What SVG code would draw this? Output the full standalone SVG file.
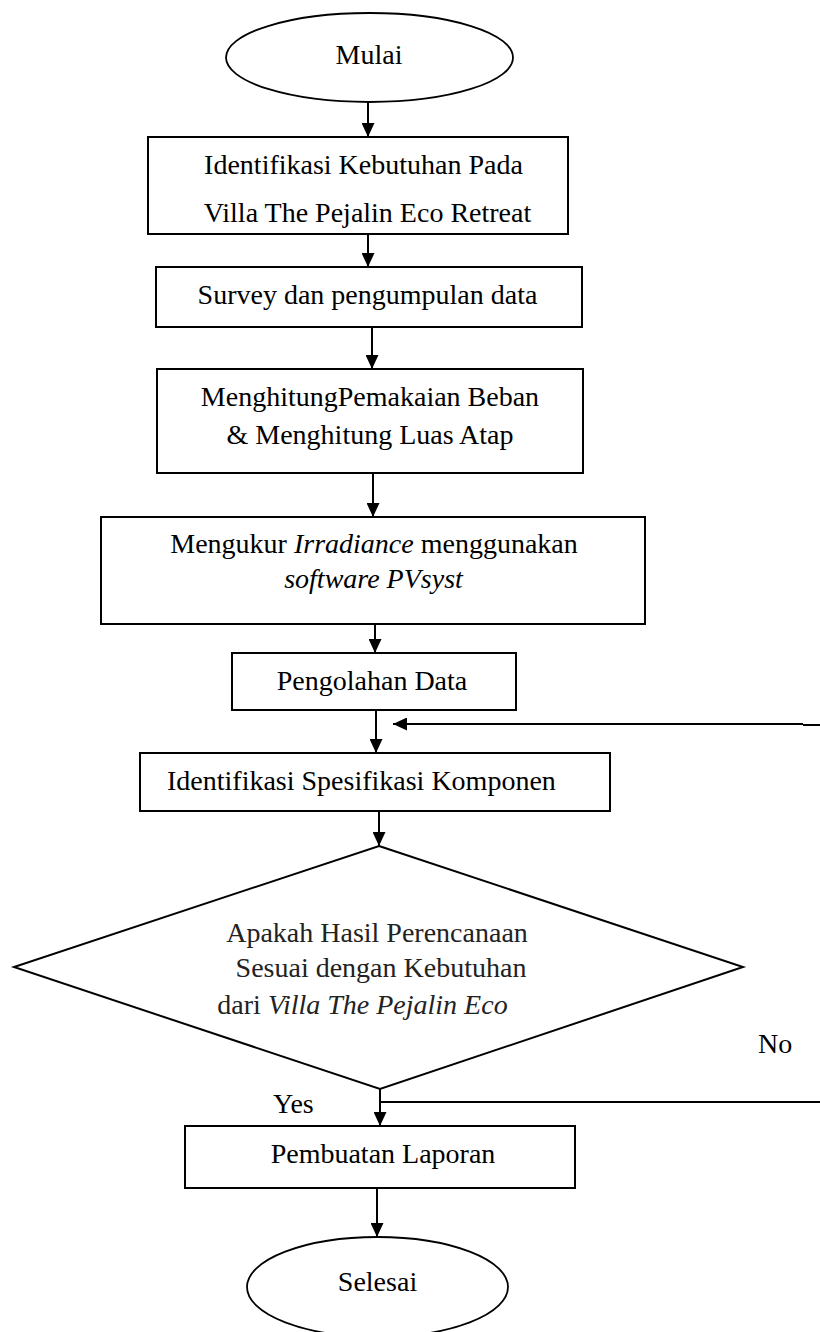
<svg xmlns="http://www.w3.org/2000/svg" width="820" height="1332" viewBox="0 0 820 1332">
<style>
.box{fill:#fff;stroke:#000;stroke-width:2}
.term{fill:#fff;stroke:#000;stroke-width:1.8}
.t{font-family:"Liberation Serif","Times New Roman",serif;font-size:28px;fill:#000}
.tc{text-anchor:middle}
.d{fill:#222}
.edge{fill:none;stroke:#000;stroke-width:2}
</style>
<defs>
<marker id="ah" markerUnits="userSpaceOnUse" markerWidth="14" markerHeight="13" refX="14" refY="6.5" orient="auto">
<path d="M0,0 L14,6.5 L0,13 z" fill="#000"/>
</marker>
</defs>
<rect width="820" height="1332" fill="#fff"/>

<g id="connectors">
<line class="edge" x1="368" y1="102" x2="368" y2="137" marker-end="url(#ah)"/>
<line class="edge" x1="368" y1="234" x2="368" y2="267" marker-end="url(#ah)"/>
<line class="edge" x1="372" y1="327" x2="372" y2="369" marker-end="url(#ah)"/>
<line class="edge" x1="373" y1="473" x2="373" y2="517" marker-end="url(#ah)"/>
<line class="edge" x1="375" y1="624" x2="375" y2="653" marker-end="url(#ah)"/>
<line class="edge" x1="376" y1="710" x2="376" y2="753" marker-end="url(#ah)"/>
<line class="edge" x1="379" y1="811" x2="379" y2="846" marker-end="url(#ah)"/>
<line class="edge" x1="380" y1="1089" x2="380" y2="1126" marker-end="url(#ah)"/>
<line class="edge" x1="377" y1="1188" x2="377" y2="1237" marker-end="url(#ah)"/>
<line class="edge" x1="380" y1="1102" x2="820" y2="1102"/>
<line class="edge" x1="820" y1="725" x2="803" y2="725"/>
<line class="edge" x1="803" y1="724" x2="393" y2="724" marker-end="url(#ah)"/>
<text class="t" x="273" y="1113">Yes</text>
<text class="t" x="758" y="1053">No</text>
</g>

<g id="mulai">
<ellipse class="term" cx="369.5" cy="57.5" rx="143.5" ry="44.5"/>
<text class="t tc" x="369" y="64">Mulai</text>
</g>

<g id="identifikasi-kebutuhan">
<rect class="box" x="148" y="137" width="420" height="97"/>
<text class="t tc" x="363.5" y="174">Identifikasi Kebutuhan Pada</text>
<text class="t tc" x="367.5" y="222">Villa The Pejalin Eco Retreat</text>
</g>

<g id="survey">
<rect class="box" x="156" y="267" width="426" height="60"/>
<text class="t tc" x="367.5" y="304">Survey dan pengumpulan data</text>
</g>

<g id="menghitung">
<rect class="box" x="157" y="369" width="426" height="104"/>
<text class="t tc" x="370" y="406">MenghitungPemakaian Beban</text>
<text class="t tc" x="370" y="444">&amp; Menghitung Luas Atap</text>
</g>

<g id="mengukur">
<rect class="box" x="101" y="517" width="544" height="107"/>
<text class="t tc" x="374" y="553">Mengukur <tspan font-style="italic">Irradiance</tspan> menggunakan</text>
<text class="t tc" x="373.5" y="588" font-style="italic">software PVsyst</text>
</g>

<g id="pengolahan">
<rect class="box" x="232" y="653" width="284" height="57"/>
<text class="t tc" x="372" y="690">Pengolahan Data</text>
</g>

<g id="spesifikasi">
<rect class="box" x="140" y="753" width="470" height="58"/>
<text class="t" x="167" y="790">Identifikasi Spesifikasi Komponen</text>
</g>

<g id="keputusan">
<polygon class="box" points="379,846 743,967 380,1089 14,967"/>
<text class="t tc d" x="377" y="942">Apakah Hasil Perencanaan</text>
<text class="t tc d" x="381" y="977">Sesuai dengan Kebutuhan</text>
<text class="t tc d" x="362.5" y="1014">dari <tspan font-style="italic">Villa The Pejalin Eco</tspan></text>
</g>

<g id="laporan">
<rect class="box" x="185" y="1126" width="390" height="62"/>
<text class="t tc" x="383" y="1163">Pembuatan Laporan</text>
</g>

<g id="selesai">
<ellipse class="term" cx="377.5" cy="1287" rx="130.5" ry="50"/>
<text class="t tc" x="377.5" y="1291">Selesai</text>
</g>
</svg>
